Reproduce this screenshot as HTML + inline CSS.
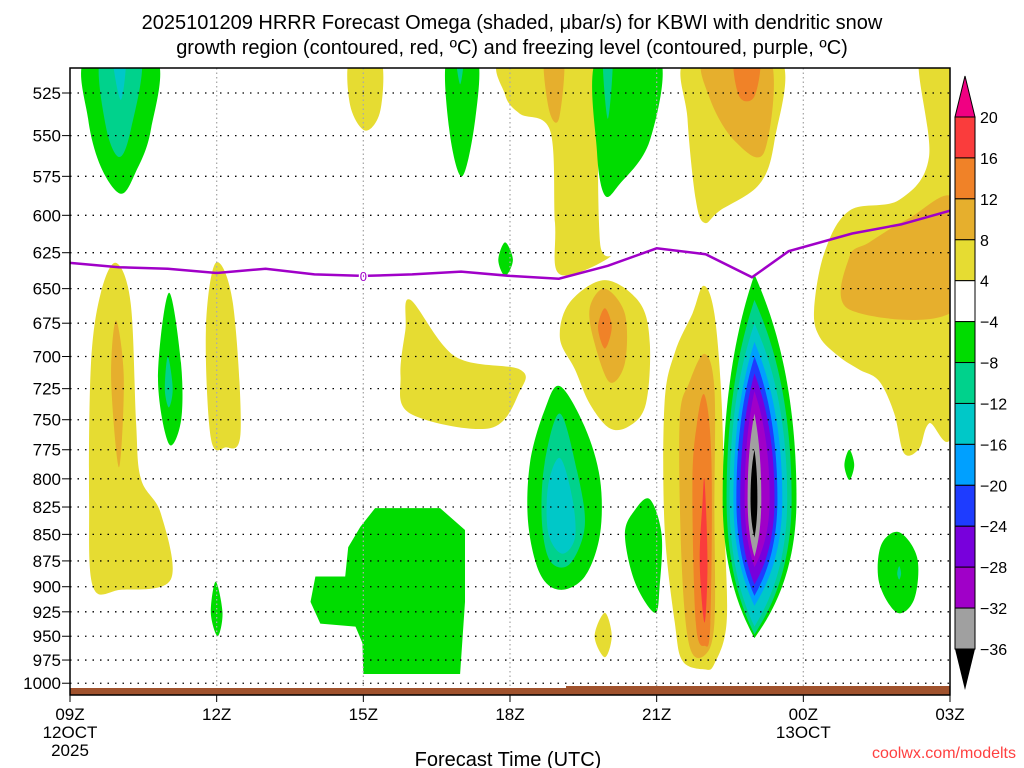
<!DOCTYPE html>
<html><head><meta charset="utf-8">
<style>
html,body{margin:0;padding:0;background:#fff;}
svg{display:block;font-family:"Liberation Sans",sans-serif;}
</style></head>
<body>
<svg id="chart" width="1024" height="768" viewBox="0 0 1024 768">
<text x="512" y="29" font-size="20" text-anchor="middle">2025101209 HRRR Forecast Omega (shaded, μbar/s) for KBWI with dendritic snow</text>
<text x="512" y="54" font-size="20" text-anchor="middle">growth region (contoured, red, ºC) and freezing level (contoured, purple, ºC)</text>
<defs><clipPath id="plotclip"><rect x="70" y="68" width="880" height="627"/></clipPath></defs>
<g id="fills" clip-path="url(#plotclip)"></g>
<g id="grid"></g>
<g id="fz" clip-path="url(#plotclip)"></g>
<g id="axes"></g>
<g id="cbar"></g>
<text x="508" y="766" font-size="20" text-anchor="middle">Forecast Time (UTC)</text>
<text x="1016" y="758" font-size="16" fill="#ff4040" text-anchor="end">coolwx.com/modelts</text>
</svg>
<script>
const NS='http://www.w3.org/2000/svg';
// ---- data ----
const timeTicks=[0,3,6,9,12,15,18];
const timeLabels=['09Z','12Z','15Z','18Z','21Z','00Z','03Z'];
const pressureTicks=[525,550,575,600,625,650,675,700,725,750,775,800,825,850,875,900,925,950,975,1000];
const cbarLevels=[20,16,12,8,4,-4,-8,-12,-16,-20,-24,-28,-32,-36];
const cbarColors=['#fa3c3c','#f08228','#e6af2d','#e6dc32','#ffffff','#00dc00','#00d28c','#00c8c8','#00a0ff','#1e3cff','#7800dc','#a000c8','#a0a0a0'];
const levelColor={4:'#e6dc32',8:'#e6af2d',12:'#f08228',16:'#fa3c3c','-4':'#00dc00','-8':'#00d28c','-12':'#00c8c8','-16':'#00a0ff','-20':'#1e3cff','-24':'#7800dc','-28':'#a000c8','-32':'#a0a0a0','-36':'#000000'};
// freezing level: hours since 09Z, pressure hPa
const fzHours=[0,1,2,3,4,5,6,7,8,9,10,11,12,13,13.95,14.7,16,17,18];
const fzPress=[632,635,636,639,636,640,641,640,638,641,643,634,622,626,642,624,612,606,597];
// omega regions [level, [[hour,hPa],...]]
const blobTopLeft=[[-4,[[0.33,505],[1.76,505],[1.65,547],[1.35,572],[1.04,586],[0.63,569],[0.37,540]]],[-8,[[0.63,505],[1.45,505],[1.24,547],[1.0,563],[0.73,544]]],[-12,[[0.88,505],[1.14,505],[1.04,529]]]];
const blobLeftYellow=[[4,[[0.94,632],[1.24,660],[1.35,751],[1.45,800],[1.86,831],[2.06,893],[1.04,903],[0.47,900],[0.39,818],[0.43,705],[0.63,653]]],[8,[[0.94,673],[1.10,717],[1.0,790],[0.84,717]]]];
const blobGreenThin=[[-4,[[2.02,653],[2.27,705],[2.27,751],[2.02,770],[1.8,717]]],[-8,[[2.0,700],[2.1,725],[2.02,740],[1.94,725]]]];
const blob12zYellow=[[4,[[2.98,632],[3.33,660],[3.49,760],[3.18,773],[2.88,765],[2.78,680]]]];
const blob12zGreen=[[-4,[[2.98,895],[3.12,926],[3.02,950],[2.88,926]]]];
const blob15zTop=[[4,[[5.73,505],[6.35,505],[6.35,535],[6.04,547],[5.73,532]]]];
const blob17zGreen=[[-4,[[7.71,505],[8.33,505],[8.29,540],[8.02,575],[7.76,547]]],[-8,[[7.9,505],[8.05,505],[7.98,520]]]];
const blob19zYellow=[[4,[[8.9,505],[11.24,505],[10.84,540],[10.84,618],[11.04,628],[10.02,640],[9.92,605],[9.82,547],[9.2,537],[8.9,526]]],[8,[[9.7,505],[10.1,505],[10.0,540],[9.8,535]]]];
const blob20zGreen=[[-4,[[10.78,505],[12.06,505],[11.86,553],[11.24,580],[10.94,587],[10.78,560]]],[-8,[[10.9,505],[11.1,505],[11.0,540]]]];
const blob22zTop=[[4,[[12.63,505],[14.51,505],[14.41,553],[14.1,580],[13.29,597],[12.98,605],[12.8,590],[12.63,540]]],[8,[[12.98,505],[14.31,505],[14.2,560],[13.59,553],[13.1,529]]],[12,[[13.59,505],[14.1,505],[14.0,527],[13.69,527]]]];
const blobRightTop=[[4,[[17.37,505],[18.1,505],[18.1,745],[17.57,753],[17.37,774],[17.06,778],[16.86,745],[16.55,719],[16.14,710],[15.73,700],[15.33,685],[15.22,665],[15.43,625],[15.94,597],[16.96,590],[17.57,563]]],[8,[[18.1,590],[18.1,665],[15.94,665],[15.94,628],[16.35,618],[17.16,602]]]];
const blobSmallGreen18z=[[-4,[[8.9,618],[9.06,630],[8.9,641],[8.76,630]]]];
const blob17zYellow=[[4,[[6.96,658],[7.88,700],[9.2,710],[9.2,727],[8.59,757],[6.96,745],[6.76,715],[6.86,680]]]];
const blob20zYellow=[[4,[[10.94,644],[11.65,660],[11.86,690],[11.78,737],[11.45,755],[11.04,757],[10.63,737],[10.33,710],[10.02,686],[10.22,660]]],[8,[[10.94,650],[11.35,668],[11.35,705],[11.04,720],[10.73,690],[10.63,664]]],[12,[[10.94,664],[11.08,678],[10.94,694],[10.8,678]]]];
const blob19zGreen=[[-4,[[10.02,723],[10.53,756],[10.84,800],[10.84,850],[10.53,890],[10.02,903],[9.61,887],[9.37,839],[9.41,786],[9.71,742]]],[-8,[[10.02,745],[10.37,793],[10.53,842],[10.22,878],[9.82,875],[9.65,837],[9.71,786]]],[-12,[[10.02,782],[10.27,816],[10.33,853],[10.06,868],[9.78,848],[9.78,806]]]];
const blob21zGreen=[[-4,[[11.86,818],[12.1,850],[12.06,900],[11.96,926],[11.55,895],[11.35,850],[11.55,828]]]];
const blob20zSmallYellow=[[4,[[10.94,926],[11.08,950],[10.94,972],[10.73,950]]]];
const blob22zColumn=[[4,[[12.96,648],[13.18,668],[13.33,737],[13.39,842],[13.43,936],[13.18,979],[12.98,985],[12.53,976],[12.37,936],[12.16,842],[12.16,737],[12.37,697],[12.73,668]]],[8,[[12.98,698],[13.18,725],[13.18,825],[13.18,936],[12.98,970],[12.67,960],[12.51,876],[12.47,752],[12.67,720]]],[12,[[12.98,730],[13.12,783],[13.1,936],[12.98,960],[12.8,936],[12.73,806],[12.82,754]]],[16,[[12.98,802],[13.04,876],[12.98,936],[12.88,876],[12.94,820]]]];
// angular region (drawn with straight edges)
const blob16zGreen=[[-4,[[6.24,826],[7.57,826],[8.08,846],[8.08,915],[7.98,990],[6.0,990],[5.98,957],[5.84,940],[5.12,937],[4.92,915],[5.02,890],[5.63,890],[5.69,862],[5.94,843]]]];
const blob02zGreen=[[-4,[[16.96,848],[17.33,872],[17.27,912],[16.92,926],[16.55,896],[16.59,860]]],[-8,[[16.96,880],[17.0,887],[16.96,893],[16.92,887]]]];
const blob01zGreen=[[-4,[[15.94,775],[16.04,788],[15.94,801],[15.84,788]]]];
// strong ascent column near 23Z
const colLevels=[-4,-8,-12,-16,-20,-24,-28,-32,-36];
const colTop=[640,658,675,689,700,713,727,745,775];
const colBot=[952,948,940,919,909,898,881,871,853];
const colLeft=[13.35,13.43,13.49,13.57,13.63,13.71,13.8,13.86,13.92];
const colRight=[14.86,14.76,14.67,14.57,14.47,14.41,14.31,14.14,14.06];
const colCenter=14.0, colMidP=818;

// ---- axes ----
const X0=70,X1=950,Y0=93,K=916;
const xs=h=>X0+h*(X1-X0)/18;
const ys=p=>Y0+K*Math.log(p/525);

function smoothPath(pts){
  const n=pts.length;let d='M'+pts[0][0].toFixed(1)+','+pts[0][1].toFixed(1);
  for(let i=0;i<n;i++){
    const p0=pts[(i-1+n)%n],p1=pts[i],p2=pts[(i+1)%n],p3=pts[(i+2)%n];
    const c1=[p1[0]+(p2[0]-p0[0])/6,p1[1]+(p2[1]-p0[1])/6];
    const c2=[p2[0]-(p3[0]-p1[0])/6,p2[1]-(p3[1]-p1[1])/6];
    d+='C'+c1[0].toFixed(1)+','+c1[1].toFixed(1)+' '+c2[0].toFixed(1)+','+c2[1].toFixed(1)+' '+p2[0].toFixed(1)+','+p2[1].toFixed(1);
  }
  return d+'Z';
}
function straightPath(pts){
  return 'M'+pts.map(p=>p[0].toFixed(1)+','+p[1].toFixed(1)).join('L')+'Z';
}
const fills=document.getElementById('fills');
const allBlobs=[blobTopLeft,blobLeftYellow,blobGreenThin,blob12zYellow,blob12zGreen,blob15zTop,blob17zGreen,blob19zYellow,blob20zGreen,blob22zTop,blobRightTop,blobSmallGreen18z,blob17zYellow,blob20zYellow,blob19zGreen,blob21zGreen,blob20zSmallYellow,blob22zColumn,blob16zGreen,blob02zGreen,blob01zGreen];
allBlobs.forEach(blob=>{
  const angular=(blob===blob16zGreen);
  blob.forEach(([lvl,pts])=>{
    const el=document.createElementNS(NS,'path');
    const sp=pts.map(([h,p])=>[xs(h),ys(p)]);
    el.setAttribute('d',angular?straightPath(sp):smoothPath(sp));
    el.setAttribute('fill',levelColor[lvl]);
    
    
    fills.appendChild(el);
  });
});
colLevels.forEach((lvl,i)=>{
  const t=ys(colTop[i]),b=ys(colBot[i]),m=ys(colMidP),cx=xs(colCenter),l=xs(colLeft[i]),r=xs(colRight[i]);
  const q1=t+(m-t)*0.45,q3=m+(b-m)*0.55;
  const d=`M${cx},${t} C${cx+(r-cx)*0.35},${t+(m-t)*0.15} ${r},${q1} ${r},${m} C${r},${q3} ${cx+(r-cx)*0.35},${b-(b-m)*0.15} ${cx},${b} C${cx-(cx-l)*0.35},${b-(b-m)*0.15} ${l},${q3} ${l},${m} C${l},${q1} ${cx-(cx-l)*0.35},${t+(m-t)*0.15} ${cx},${t}Z`;
  const el=document.createElementNS(NS,'path');
  el.setAttribute('d',d);el.setAttribute('fill',levelColor[lvl]);
  
  
  fills.appendChild(el);
});
// ground
const g1=document.createElementNS(NS,'rect');
g1.setAttribute('x',70);g1.setAttribute('y',688);g1.setAttribute('width',880);g1.setAttribute('height',7);g1.setAttribute('fill','#a0522d');


fills.appendChild(g1);
const g2=document.createElementNS(NS,'rect');
g2.setAttribute('x',566);g2.setAttribute('y',686);g2.setAttribute('width',384);g2.setAttribute('height',3);g2.setAttribute('fill','#a0522d');


fills.appendChild(g2);

// grid
const grid=document.getElementById('grid');
pressureTicks.forEach(p=>{
  const l=document.createElementNS(NS,'line');
  l.setAttribute('x1',X0);l.setAttribute('x2',X1);l.setAttribute('y1',ys(p));l.setAttribute('y2',ys(p));
  l.setAttribute('stroke','#000');l.setAttribute('stroke-width','1.3');l.setAttribute('stroke-dasharray','1.5 6');
  
  
  grid.appendChild(l);
});
timeTicks.slice(1,-1).forEach(h=>{
  const l=document.createElementNS(NS,'line');
  l.setAttribute('x1',xs(h));l.setAttribute('x2',xs(h));l.setAttribute('y1',68);l.setAttribute('y2',688);
  l.setAttribute('stroke','#aaa');l.setAttribute('stroke-width','1.3');l.setAttribute('stroke-dasharray','1.5 3');
  
  
  grid.appendChild(l);
});
// freezing line
const fz=document.getElementById('fz');
const pl=document.createElementNS(NS,'polyline');
pl.setAttribute('points',fzHours.map((h,i)=>xs(h).toFixed(1)+','+ys(fzPress[i]).toFixed(1)).join(' '));
pl.setAttribute('fill','none');pl.setAttribute('stroke','#a000c8');pl.setAttribute('stroke-width','2.5');


fz.appendChild(pl);
const lb=document.createElementNS(NS,'text');
lb.setAttribute('x',xs(6));lb.setAttribute('y',ys(fzPress[6])+5);lb.setAttribute('font-size','13');lb.setAttribute('text-anchor','middle');lb.setAttribute('fill','#a000c8');
lb.setAttribute('stroke','#fff');lb.setAttribute('stroke-width','3');lb.setAttribute('paint-order','stroke');
lb.textContent='0';


fz.appendChild(lb);

// axes
const ax=document.getElementById('axes');
const fr=document.createElementNS(NS,'rect');
fr.setAttribute('x',X0);fr.setAttribute('y',68);fr.setAttribute('width',X1-X0);fr.setAttribute('height',627);
fr.setAttribute('fill','none');fr.setAttribute('stroke','#000');fr.setAttribute('stroke-width','1.5');


ax.appendChild(fr);
pressureTicks.forEach(p=>{
  const t=document.createElementNS(NS,'text');
  t.setAttribute('x',61);t.setAttribute('y',ys(p)+6);t.setAttribute('font-size','17');t.setAttribute('text-anchor','end');
  t.textContent=p;
  
  
  ax.appendChild(t);
  const tk=document.createElementNS(NS,'line');
  tk.setAttribute('x1',62);tk.setAttribute('x2',X0);tk.setAttribute('y1',ys(p));tk.setAttribute('y2',ys(p));tk.setAttribute('stroke','#000');
  
  
  ax.appendChild(tk);
});
timeTicks.forEach((h,i)=>{
  const tk=document.createElementNS(NS,'line');
  tk.setAttribute('x1',xs(h));tk.setAttribute('x2',xs(h));tk.setAttribute('y1',695);tk.setAttribute('y2',702);tk.setAttribute('stroke','#000');
  
  
  ax.appendChild(tk);
  const t=document.createElementNS(NS,'text');
  t.setAttribute('x',xs(h));t.setAttribute('y',720);t.setAttribute('font-size','17');t.setAttribute('text-anchor','middle');
  t.textContent=timeLabels[i];
  
  
  ax.appendChild(t);
});
[['12OCT',xs(0),738],['2025',xs(0),756],['13OCT',xs(15),738]].forEach(([s,x,y])=>{
  const t=document.createElementNS(NS,'text');
  t.setAttribute('x',x);t.setAttribute('y',y);t.setAttribute('font-size','17');t.setAttribute('text-anchor','middle');
  t.textContent=s;
  
  
  ax.appendChild(t);
});

// colorbar
const cb=document.getElementById('cbar');
const CB_X=955,CB_W=20,CB_T=117,CB_STEP=(649-117)/13;
const cbTop=document.createElementNS(NS,'polygon');
cbTop.setAttribute('points',`${CB_X},${CB_T} ${CB_X+CB_W},${CB_T} ${CB_X+CB_W/2},76`);
cbTop.setAttribute('fill','#f00082');cbTop.setAttribute('stroke','#000');


cb.appendChild(cbTop);
cbarColors.forEach((c,i)=>{
  const r=document.createElementNS(NS,'rect');
  r.setAttribute('x',CB_X);r.setAttribute('y',CB_T+i*CB_STEP);r.setAttribute('width',CB_W);r.setAttribute('height',CB_STEP);
  r.setAttribute('fill',c);r.setAttribute('stroke','#000');
  
  
  cb.appendChild(r);
});
const cbBot=document.createElementNS(NS,'polygon');
cbBot.setAttribute('points',`${CB_X},649 ${CB_X+CB_W},649 ${CB_X+CB_W/2},690`);
cbBot.setAttribute('fill','#000');


cb.appendChild(cbBot);
cbarLevels.forEach((v,i)=>{
  const t=document.createElementNS(NS,'text');
  t.setAttribute('x',980);t.setAttribute('y',CB_T+i*CB_STEP+6);t.setAttribute('font-size','16');
  t.textContent=v<0?'\u2212'+Math.abs(v):String(v);
  
  
  cb.appendChild(t);
});
</script>
</body></html>
